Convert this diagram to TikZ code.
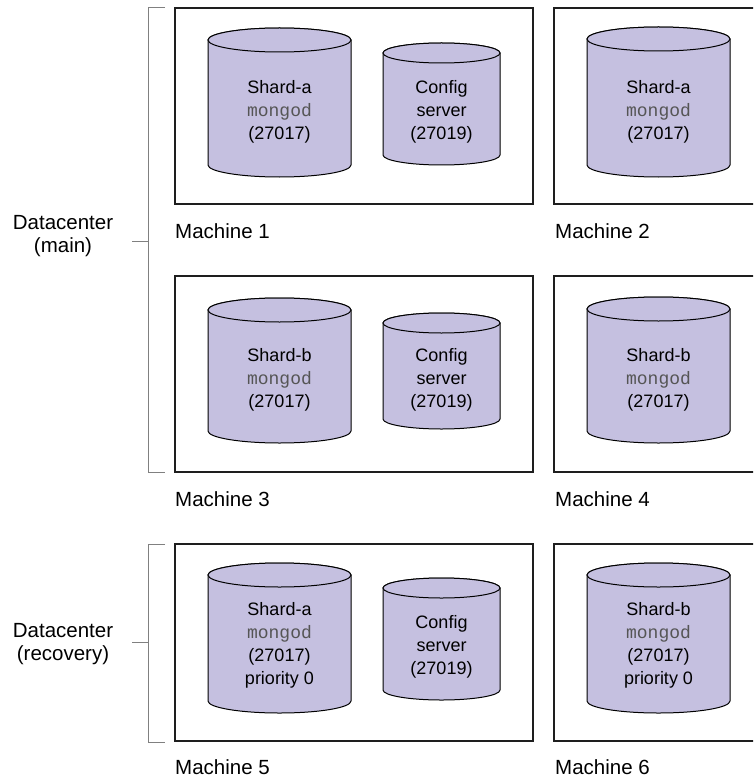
\documentclass[tikz,border=0pt]{standalone}
\usepackage{fontspec}
\setmainfont{Liberation Sans}
\newfontfamily\cylmono{Liberation Mono}
\definecolor{cylfill}{RGB}{197,192,224}
\definecolor{monogray}{RGB}{85,85,85}
\definecolor{brackgray}{RGB}{128,128,128}
\definecolor{boxline}{RGB}{30,30,30}
\newcommand{\mycyl}[5]{% cx, ytop, ybot, rx, ry
  \filldraw[cylshape] ({#1-#4},{#2+#5}) -- ({#1-#4},{#3-#5})
    arc[start angle=180, end angle=360, x radius=#4pt, y radius=#5pt]
    -- ({#1+#4},{#2+#5})
    arc[start angle=0, end angle=180, x radius=#4pt, y radius=#5pt] -- cycle;
  \draw[cylshape] (#1,{#2+#5}) ellipse[x radius=#4pt, y radius=#5pt];
}
\newcommand{\mg}{{\cylmono\color{monogray}mongod}}
\tikzset{
  cylshape/.style={fill=cylfill, draw=black, line width=1pt},
  machinebox/.style={draw=boxline, line width=1.2pt},
  bracketline/.style={draw=brackgray, line width=1pt},
  celltext/.style={align=center, inner sep=0pt, font=\fontsize{18}{23}\selectfont},
  machinelabel/.style={anchor=west, inner sep=0pt, font=\fontsize{20.5}{24}\selectfont},
  dclabel/.style={align=center, inner sep=0pt, font=\fontsize{20.5}{23}\selectfont},
}
\begin{document}
\begin{tikzpicture}[x=1pt,y=-1pt]
\useasboundingbox (0,0) rectangle (753,778);
\clip (0,0) rectangle (753,778);
% machine boxes
\draw[machinebox] (175,8) rectangle (533,204);
\draw[machinebox] (554,8) rectangle (760,204);
\draw[machinebox] (175,276) rectangle (533,472);
\draw[machinebox] (554,276) rectangle (760,472);
\draw[machinebox] (175,544) rectangle (533,741);
\draw[machinebox] (554,544) rectangle (760,741);
% brackets
\coordinate (b1t) at (165,8);
\coordinate (b1b) at (165,472);
\coordinate (b1m) at (148,241);
\coordinate (b1tick) at (132,241);
\draw[bracketline] (b1t) -- (148,8) -- (148,472) -- (b1b);
\draw[bracketline] (b1m) -- (b1tick);
\coordinate (b2t) at (165,544);
\coordinate (b2b) at (165,742);
\coordinate (b2m) at (148,642);
\coordinate (b2tick) at (132,642);
\draw[bracketline] (b2t) -- (148,544) -- (148,742) -- (b2b);
\draw[bracketline] (b2m) -- (b2tick);
% datacenter labels
\node[dclabel] (dcmain) at (63,236) {Datacenter\\(main)};
\node[dclabel] (dcrec) at (63,644) {Datacenter\\(recovery)};
% row 1
\mycyl{279.5}{28}{177}{71.5}{12}
\mycyl{441.5}{43}{165}{58.5}{10}
\mycyl{658.5}{27}{177}{71.5}{12}
\node[celltext] (m1a) at (279.5,112) {Shard-a\\\mg\\(27017)};
\node[celltext] (m1c) at (441.5,112) {Config\\server\\(27019)};
\node[celltext] (m2a) at (658.5,112) {Shard-a\\\mg\\(27017)};
% row 2
\mycyl{279.5}{298}{443}{71.5}{12}
\mycyl{441.5}{313}{429}{58.5}{10}
\mycyl{658.5}{297}{443}{71.5}{12}
\node[celltext] (m3b) at (279.5,380) {Shard-b\\\mg\\(27017)};
\node[celltext] (m3c) at (441.5,380) {Config\\server\\(27019)};
\node[celltext] (m4b) at (658.5,380) {Shard-b\\\mg\\(27017)};
% row 3
\mycyl{279.5}{563}{713}{71.5}{12}
\mycyl{441.5}{578}{700}{58.5}{10}
\mycyl{658.5}{563}{713}{71.5}{12}
\node[celltext] (m5a) at (279.5,645) {Shard-a\\\mg\\(27017)\\priority 0};
\node[celltext] (m5c) at (441.5,647) {Config\\server\\(27019)};
\node[celltext] (m6b) at (658.5,645) {Shard-b\\\mg\\(27017)\\priority 0};
% machine labels
\node[machinelabel] (l1) at (175,231) {Machine 1};
\node[machinelabel] (l2) at (555,231) {Machine 2};
\node[machinelabel] (l3) at (175,499) {Machine 3};
\node[machinelabel] (l4) at (555,499) {Machine 4};
\node[machinelabel] (l5) at (175,767) {Machine 5};
\node[machinelabel] (l6) at (555,767) {Machine 6};
\end{tikzpicture}
\end{document}
